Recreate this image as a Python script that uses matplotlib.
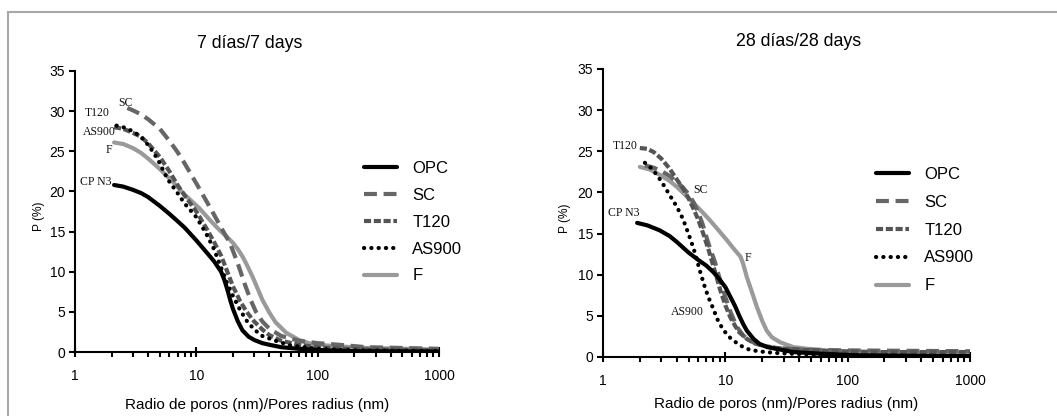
import matplotlib
matplotlib.use("Agg")
import matplotlib.pyplot as plt
from matplotlib.lines import Line2D

plt.rcParams['font.family'] = ['Liberation Sans', 'DejaVu Sans']

series_names = ["OPC", "SC", "T120", "AS900", "F"]

# ---- 7 days ----
opc7_x = [2.1, 2.5, 3, 3.5, 4, 5, 6, 7, 8, 10, 12, 14, 16, 17, 18, 19, 20, 22, 24, 27, 30, 35, 40, 50, 70, 100, 200, 1000]
opc7_y = [20.8, 20.6, 20.2, 19.8, 19.3, 18.2, 17.2, 16.3, 15.5, 13.9, 12.5, 11.3, 10.0, 9.0, 7.8, 6.5, 5.4, 3.8, 2.7, 1.9, 1.5, 1.1, 0.9, 0.6, 0.4, 0.25, 0.1, 0.05]
sc7_x = [2.7, 3, 3.5, 4, 5, 6, 7, 8, 10, 12, 14, 16, 19, 22, 25, 28, 31, 35, 40, 50, 70, 100, 150, 250, 500, 1000]
sc7_y = [30.4, 30.1, 29.6, 29.0, 27.8, 26.3, 24.9, 23.5, 21.0, 18.9, 17.1, 15.5, 13.5, 11.0, 8.5, 6.5, 5.0, 3.8, 2.9, 2.0, 1.4, 1.1, 0.9, 0.6, 0.5, 0.4]
t1207_x = [2.1, 2.5, 3, 3.5, 4, 5, 6, 7, 8, 10, 12, 14, 16, 18, 20, 23, 26, 30, 35, 40, 50, 70, 100, 200, 1000]
t1207_y = [28.0, 27.8, 27.3, 26.8, 26.0, 24.3, 22.5, 20.8, 19.5, 17.5, 15.5, 13.7, 12.0, 10.0, 8.2, 6.3, 5.0, 3.8, 2.8, 2.1, 1.4, 0.9, 0.6, 0.35, 0.2]
as7_x = [2.2, 2.5, 3, 3.5, 4, 4.5, 5, 5.5, 6, 7, 8, 10, 12, 14, 16, 18, 20, 23, 26, 30, 35, 45, 60, 100, 200, 1000]
as7_y = [28.2, 28.0, 27.5, 26.8, 25.8, 24.7, 23.5, 22.2, 21.2, 19.8, 18.5, 16.8, 14.8, 12.8, 10.5, 8.5, 7.0, 5.2, 3.9, 2.8, 2.0, 1.4, 0.8, 0.4, 0.2, 0.1]
f7_x = [2.1, 2.5, 3, 3.5, 4, 5, 6.4, 8, 10.6, 13, 15.5, 18, 20, 22, 24, 26, 29, 32, 35, 40, 45, 55, 70, 85, 100, 150, 250, 500, 1000]
f7_y = [26.1, 25.9, 25.4, 24.8, 24.1, 22.8, 21.2, 19.6, 17.9, 16.4, 15.2, 14.3, 13.6, 12.8, 11.9, 10.9, 9.4, 7.9, 6.5, 4.9, 3.7, 2.4, 1.5, 1.1, 0.9, 0.7, 0.5, 0.4, 0.3]

# ---- 28 days ----
opc28_x = [1.9, 2.3, 2.9, 3.5, 4, 5, 6, 7, 8, 9, 10, 11, 12, 13, 14, 15, 17, 19, 22, 28, 36, 60, 126, 1000]
opc28_y = [16.3, 16.0, 15.4, 14.7, 14.0, 12.7, 11.8, 11.1, 10.3, 9.4, 8.5, 7.3, 6.2, 5.0, 4.0, 3.2, 2.2, 1.6, 1.2, 0.9, 0.6, 0.4, 0.2, 0.1]
sc28_x = [2.2, 2.6, 3, 3.5, 4, 4.5, 5, 5.5, 6, 6.5, 7, 7.5, 8.2, 9, 10, 11, 12.4, 14, 16.8, 20, 25, 40, 100, 1000]
sc28_y = [23.3, 23.0, 22.6, 22.0, 21.3, 20.6, 19.8, 18.8, 17.6, 16.2, 14.6, 13.2, 11.6, 9.5, 7.3, 5.5, 3.7, 2.6, 1.8, 1.4, 1.1, 0.9, 0.8, 0.7]
t12028_x = [2.0, 2.3, 2.6, 3, 3.5, 4, 4.5, 5, 5.5, 6, 6.6, 7.3, 8, 8.6, 9.1, 10, 11, 12, 13, 15, 17, 20, 26, 40, 70, 200, 1000]
t12028_y = [25.4, 25.3, 24.9, 24.1, 22.9, 21.6, 20.5, 19.3, 18.0, 16.7, 15.0, 13.0, 11.0, 9.4, 8.1, 6.3, 4.8, 3.8, 3.0, 2.2, 1.7, 1.4, 1.1, 0.9, 0.7, 0.6, 0.6]
as28_x = [2.2, 2.5, 2.8, 3.1, 3.5, 4, 4.5, 5.1, 5.5, 5.85, 6.3, 6.8, 7.3, 7.9, 8.6, 9.6, 11, 12.4, 14, 16, 20, 25, 50, 100, 1000]
as28_y = [23.6, 22.9, 22.0, 21.0, 19.7, 18.3, 16.8, 14.6, 13.2, 11.8, 10.1, 8.5, 7.2, 6.0, 4.6, 3.3, 2.3, 1.7, 1.2, 0.85, 0.65, 0.5, 0.3, 0.2, 0.1]
f28_x = [2.0, 2.4, 2.94, 3.5, 4.0, 4.7, 5.5, 6.5, 7.5, 8.8, 10.3, 11.8, 13.3, 14, 15, 16.5, 18.1, 20, 21.8, 24, 28, 36, 50, 68, 126, 300, 1000]
f28_y = [23.1, 22.8, 22.1, 21.4, 20.7, 19.7, 18.7, 17.6, 16.6, 15.4, 14.2, 13.1, 12.2, 11.3, 9.7, 7.9, 6.1, 4.4, 3.2, 2.4, 1.8, 1.2, 0.95, 0.8, 0.6, 0.5, 0.4]

y_ticks = [0, 5, 10, 15, 20, 25, 30, 35]
x_ticks = [1, 10, 100, 1000]
x_ticklabels = ["1", "10", "100", "1000"]

LW = 3.0
styles = {
    "OPC": dict(color="#000000", linestyle="-", lw=LW, solid_capstyle="round"),
    "SC": dict(color="#666666", linestyle=(0, (3.1, 1.6)), lw=LW),
    "T120": dict(color="#555555", linestyle=(0, (1.7, 0.65)), lw=LW),
    "AS900": dict(color="#000000", linestyle=(0, (0.05, 1.7)), lw=LW, dash_capstyle="round"),
    "F": dict(color="#9a9a9a", linestyle="-", lw=LW, solid_capstyle="round"),
}

W, H = 1057, 416
fig = plt.figure(figsize=(W / 100, H / 100), dpi=100)

# gray frame lines (top and left)
fig.add_artist(Line2D([8 / W, 8 / W], [0, 1 - 12 / H], color="#a8a8a8", lw=1.5, transform=fig.transFigure))
fig.add_artist(Line2D([8 / W, 1], [1 - 12 / H, 1 - 12 / H], color="#a8a8a8", lw=1.5, transform=fig.transFigure))

def make_ax(x0, x1, ybot, ytop):
    return fig.add_axes([x0 / W, 1 - ybot / H, (x1 - x0) / W, (ybot - ytop) / H])

panels = [
    dict(rect=(75, 439, 352, 71), title="7 días/7 days", title_xy=(250, 43),
         xlabel_y=405, ylabel_x=39,
         data={"OPC": (opc7_x, opc7_y), "SC": (sc7_x, sc7_y), "T120": (t1207_x, t1207_y),
               "AS900": (as7_x, as7_y), "F": (f7_x, f7_y)},
         legend_anchor=(364, 161), labelspacing=0.71,
         notes=[("SC", 125, 103), ("T120", 97, 113), ("AS900", 99, 132), ("F", 109, 150), ("CP N3", 96, 182)]),
    dict(rect=(603, 970, 357, 69), title="28 días/28 days", title_xy=(799, 42),
         xlabel_y=404, ylabel_x=565,
         data={"OPC": (opc28_x, opc28_y), "SC": (sc28_x, sc28_y), "T120": (t12028_x, t12028_y),
               "AS900": (as28_x, as28_y), "F": (f28_x, f28_y)},
         legend_anchor=(876, 167), labelspacing=0.77,
         notes=[("T120", 625, 146), ("SC", 700, 190), ("CP N3", 624, 213), ("F", 748, 258), ("AS900", 687, 312)]),
]

for p in panels:
    x0, x1, yb, yt = p["rect"]
    ax = make_ax(x0, x1, yb, yt)
    order = ["F", "SC", "T120", "OPC", "AS900"]
    handles = {}
    for name in order:
        xs, ys = p["data"][name]
        ln, = ax.plot(xs, ys, label=name, **styles[name])
        handles[name] = ln
    ax.set_xscale("log")
    ax.set_xlim(1, 1000)
    ax.set_ylim(0, 35)
    ax.set_yticks(y_ticks)
    ax.set_xticks(x_ticks)
    ax.set_xticklabels(x_ticklabels)
    for s in ["top", "right"]:
        ax.spines[s].set_visible(False)
    for s in ["left", "bottom"]:
        ax.spines[s].set_linewidth(1.5)
    ax.tick_params(axis="y", direction="out", length=4, width=1.5, labelsize=10, pad=3)
    ax.tick_params(axis="x", which="major", direction="inout", length=7, width=1.5, labelsize=10, pad=9)
    ax.tick_params(axis="x", which="minor", direction="out", length=3.5, width=1.5)
    ax.set_facecolor("none")
    fig.text(p["title_xy"][0] / W, 1 - p["title_xy"][1] / H, p["title"], ha="center", va="center", fontsize=12.8)
    fig.text((x0 + x1) / 2 / W, 1 - p["xlabel_y"] / H, "Radio de poros (nm)/Pores radius (nm)",
             ha="center", va="center", fontsize=11)
    fig.text(p["ylabel_x"] / W, 1 - ((yb + yt) / 2 + 5) / H, "P (%)", rotation=90, ha="center", va="center", fontsize=8.6)
    ax.legend([handles[n] for n in series_names], series_names, frameon=False,
              loc="upper left", bbox_to_anchor=(p["legend_anchor"][0] / W, 1 - p["legend_anchor"][1] / H),
              bbox_transform=fig.transFigure, fontsize=12, handlelength=2.0, handletextpad=0.9,
              labelspacing=p["labelspacing"], borderaxespad=0, borderpad=0)
    for txt, tx, ty in p["notes"]:
        fig.text(tx / W, 1 - ty / H, txt, ha="center", va="center", fontsize=8.5,
                 family=["Liberation Serif", "DejaVu Serif"], color="#111111")

fig.savefig("out.png", dpi=100)
